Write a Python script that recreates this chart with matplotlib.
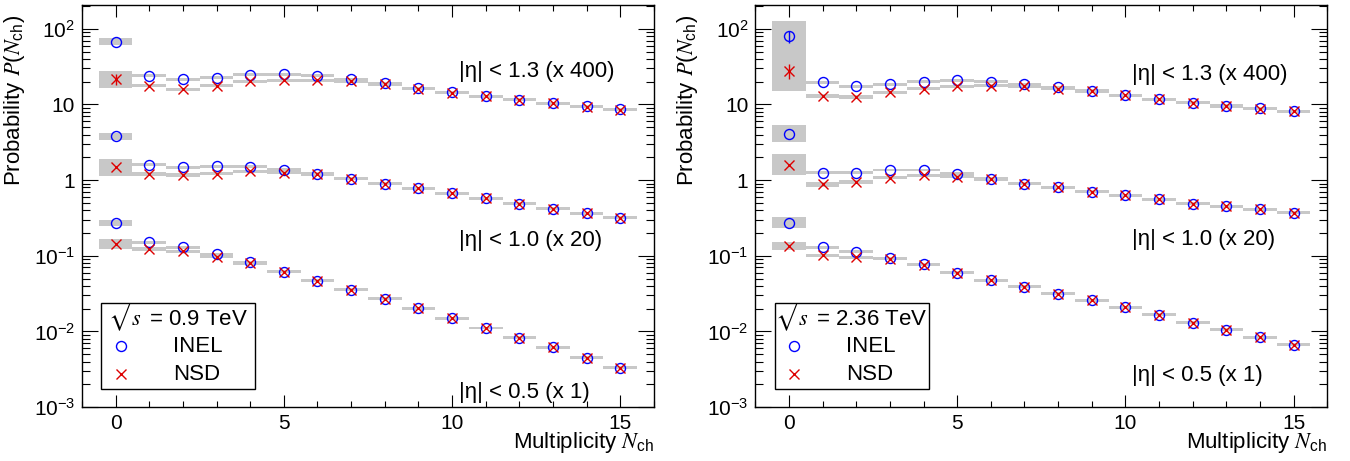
import matplotlib
matplotlib.use('Agg')
import matplotlib.pyplot as plt
import numpy as np
from matplotlib.ticker import MultipleLocator, LogLocator, FuncFormatter, NullFormatter
from matplotlib.patches import Rectangle

plt.rcParams['font.family'] = ['Liberation Sans', 'DejaVu Sans']
plt.rcParams['mathtext.fontset'] = 'stix'

# multiplicity bins
nch = np.arange(16)

# 0.9 TeV, plotted values (already scaled x400 / x20 / x1)
inel13_09 = [67.3, 23.9, 21.4, 22.7, 24.7, 25.2, 23.9, 21.6, 19.0, 16.3, 14.4, 12.9, 11.6, 10.4, 9.4, 8.6]
nsd13_09 = [21.6, 17.8, 15.8, 17.8, 20.3, 21.0, 21.0, 20.2, 18.4, 16.1, 14.3, 12.8, 11.5, 10.3, 9.3, 8.5]
inel10_09 = [3.81, 1.60, 1.47, 1.53, 1.50, 1.38, 1.22, 1.05, 0.89, 0.78, 0.67, 0.573, 0.485, 0.42, 0.362, 0.317]
nsd10_09 = [1.47, 1.20, 1.16, 1.22, 1.30, 1.26, 1.19, 1.04, 0.89, 0.78, 0.67, 0.573, 0.485, 0.42, 0.362, 0.317]
inel05_09 = [0.275, 0.151, 0.130, 0.104, 0.0815, 0.0612, 0.0466, 0.0358, 0.0272, 0.0201, 0.0150, 0.0111, 0.0083, 0.00618, 0.00452, 0.00329]
nsd05_09 = [0.142, 0.124, 0.115, 0.097, 0.080, 0.0612, 0.0466, 0.0358, 0.0272, 0.0201, 0.0150, 0.0111, 0.0083, 0.00618, 0.00452, 0.00329]

# 2.36 TeV
inel13_236 = [80.0, 19.7, 17.5, 18.5, 19.9, 20.8, 19.9, 18.5, 16.8, 15.1, 13.3, 11.8, 10.6, 9.6, 8.85, 8.2]
nsd13_236 = [27.8, 12.9, 12.4, 14.4, 16.1, 17.5, 17.8, 17.3, 16.1, 15.0, 13.2, 11.7, 10.5, 9.5, 8.8, 8.1]
inel10_236 = [4.13, 1.26, 1.26, 1.36, 1.36, 1.22, 1.04, 0.895, 0.80, 0.70, 0.634, 0.56, 0.49, 0.453, 0.41, 0.37]
nsd10_236 = [1.60, 0.885, 0.94, 1.08, 1.16, 1.11, 1.02, 0.89, 0.80, 0.70, 0.634, 0.56, 0.49, 0.453, 0.41, 0.37]
inel05_236 = [0.275, 0.129, 0.113, 0.093, 0.0767, 0.060, 0.0475, 0.0388, 0.0317, 0.0259, 0.0209, 0.0167, 0.0131, 0.0105, 0.0084, 0.0067]
nsd05_236 = [0.135, 0.101, 0.095, 0.091, 0.0755, 0.060, 0.0475, 0.0388, 0.0317, 0.0259, 0.0209, 0.0167, 0.0131, 0.0105, 0.0084, 0.0067]

# systematic uncertainty as multiplicative factor, first bins (rest ~4.5%)
sys_09 = {'inel13': [1.107], 'nsd13': [1.29, 1.06, 1.06, 1.05],
          'inel10': [1.107], 'nsd10': [1.28, 1.06, 1.06, 1.05],
          'inel05': [1.095], 'nsd05': [1.16, 1.06, 1.05]}
sys_236 = {'inel13': [1.58], 'nsd13': [1.82, 1.06, 1.06, 1.05],
           'inel10': [1.29], 'nsd10': [1.39, 1.08, 1.07, 1.05],
           'inel05': [1.17], 'nsd05': [1.12, 1.05, 1.05]}

# statistical errors (only visible in bin 0)
stat_09 = {'nsd13': 3.5}
stat_236 = {'inel13': 15.0, 'nsd13': 6.0}

eta_labels = ['|\u03b7| < 1.3 (x 400)', '|\u03b7| < 1.0 (x 20)', '|\u03b7| < 0.5 (x 1)']
label_y_09 = [27.0, 0.161, 1.58e-3]
label_y_236 = [25.2, 0.166, 2.64e-3]

GREY = '#c8c8c8'
BLUE = '#0000ff'
RED = '#dd0000'


def sysfactor(first, n=16, rest=1.045):
    f = np.full(n, rest)
    f[:len(first)] = first
    return f


def ylab(v, pos):
    e = int(round(np.log10(v)))
    if e == 0:
        return '1'
    if e == 1:
        return '10'
    return '$\\mathdefault{10^{%d}}$' % e


def panel(ax, data, sys, stat, energy, label_y):
    ax.set_yscale('log')
    ax.set_xlim(-1, 16)
    ax.set_ylim(1e-3, 206)

    # grey systematic boxes
    for key, vals in data.items():
        v = np.array(vals)
        f = sysfactor(sys[key])
        ax.bar(nch, v * f - v / f, bottom=v / f, width=1.0, color=GREY,
               linewidth=0, zorder=1)

    for key, vals in data.items():
        if key.startswith('inel'):
            ax.plot(nch, vals, 'o', mfc='none', mec=BLUE, ms=7.2, mew=1.0, zorder=3)
        else:
            ax.plot(nch, vals, 'x', color=RED, ms=7.0, mew=1.0, zorder=4)
        if key in stat:
            col = BLUE if key.startswith('inel') else RED
            ax.errorbar([0], [vals[0]], yerr=stat[key], fmt='none', ecolor=col,
                        elinewidth=1.0, capsize=0, zorder=3)

    for txt, yy in zip(eta_labels, label_y):
        ax.text(10.2, yy, txt, fontsize=16, va='center', ha='left')

    # axes style (ROOT-like)
    ax.xaxis.set_major_locator(MultipleLocator(5))
    ax.xaxis.set_minor_locator(MultipleLocator(1))
    ax.yaxis.set_major_locator(LogLocator(base=10, numticks=10))
    ax.yaxis.set_minor_locator(LogLocator(base=10, subs=np.arange(2, 10), numticks=20))
    ax.yaxis.set_major_formatter(FuncFormatter(ylab))
    ax.yaxis.set_minor_formatter(NullFormatter())
    ax.tick_params(which='both', direction='in', top=True, right=True,
                   labelsize=15, width=0.8)
    ax.tick_params(axis='x', which='major', length=8.6, pad=5)
    ax.tick_params(axis='x', which='minor', length=4.3)
    ax.tick_params(axis='y', which='major', length=11.5, pad=5)
    ax.tick_params(axis='y', which='minor', length=6)
    for s in ax.spines.values():
        s.set_linewidth(1.0)

    ax.set_xlabel('Multiplicity $N_{\\mathdefault{ch}}$', fontsize=16, loc='right')
    ax.xaxis.set_label_coords(1.0, -0.058)
    ax.set_ylabel('Probability $P$($N_{\\mathdefault{ch}}$)', fontsize=16, loc='top')
    ax.yaxis.set_label_coords(-0.096, 0.975)

    # legend box
    ax.add_patch(Rectangle((0.034, 0.0455), 0.269, 0.214, transform=ax.transAxes,
                           facecolor='white', edgecolor='black', lw=1.0, zorder=5))
    ax.text(0.168, 0.2246, '$\\sqrt{s}$ = %s TeV' % energy, transform=ax.transAxes,
            ha='center', va='center', fontsize=16, zorder=6)
    ax.plot([0.0682], [0.1517], 'o', mfc='none', mec=BLUE, ms=7.2, mew=1.0,
            transform=ax.transAxes, zorder=6)
    ax.plot([0.0682], [0.0813], 'x', color=RED, ms=7.0, mew=1.0,
            transform=ax.transAxes, zorder=6)
    ax.text(0.1586, 0.1517, 'INEL', transform=ax.transAxes, ha='left', va='center',
            fontsize=16, zorder=6)
    ax.text(0.1596, 0.0813, 'NSD', transform=ax.transAxes, ha='left', va='center',
            fontsize=16, zorder=6)


fig = plt.figure(figsize=(13.5, 4.61), dpi=100)
ax1 = fig.add_axes([0.0607, 0.117, 0.4237, 0.872])
ax2 = fig.add_axes([0.5595, 0.117, 0.4237, 0.872])

data_09 = {'inel13': inel13_09, 'nsd13': nsd13_09, 'inel10': inel10_09,
           'nsd10': nsd10_09, 'inel05': inel05_09, 'nsd05': nsd05_09}
data_236 = {'inel13': inel13_236, 'nsd13': nsd13_236, 'inel10': inel10_236,
            'nsd10': nsd10_236, 'inel05': inel05_236, 'nsd05': nsd05_236}

panel(ax1, data_09, sys_09, stat_09, '0.9', label_y_09)
panel(ax2, data_236, sys_236, stat_236, '2.36', label_y_236)

fig.savefig('out.png', dpi=100)
